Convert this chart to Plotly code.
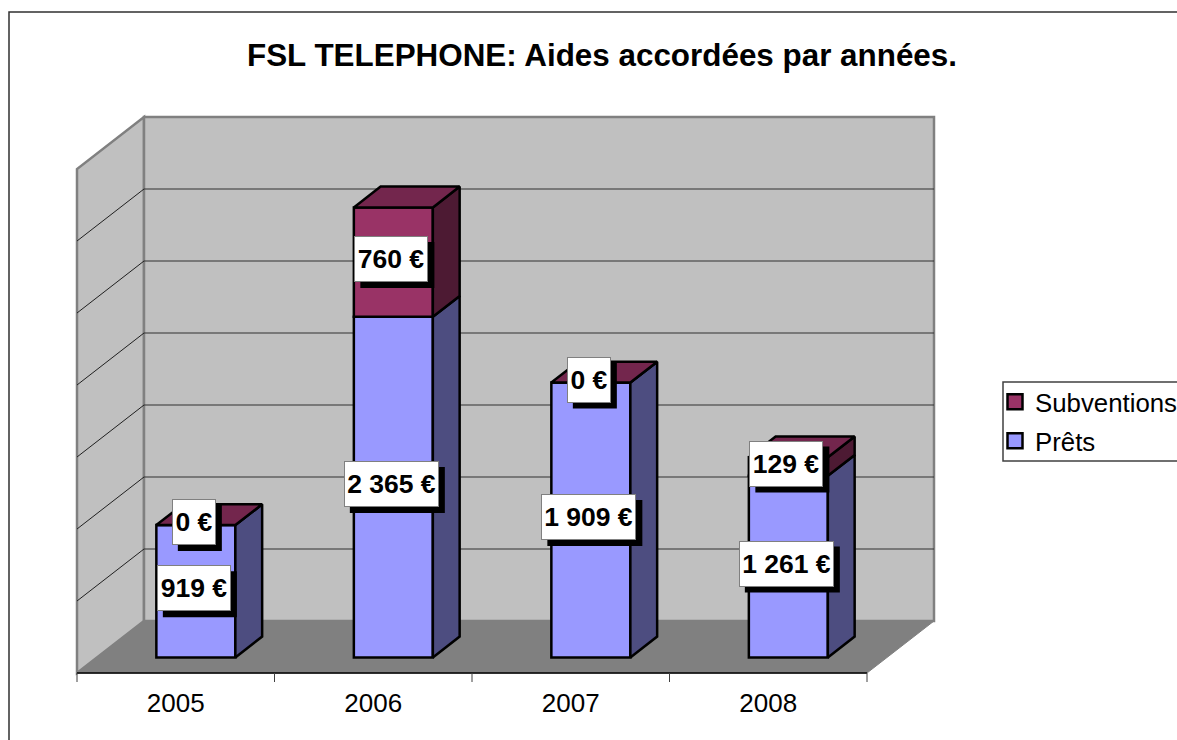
import plotly.graph_objects as go

years = ["2005", "2006", "2007", "2008"]
prets = [919, 2365, 1909, 1261]
subventions = [0, 760, 0, 129]
grid_values = [500, 1000, 1500, 2000, 2500, 3000]
axis_max = 3500

W, H = 1177, 740
PX_PER_CAT = 197.5
PX_PER_VAL = 72 / 500
ML, MR, MT, MB = 72, W - 940, 112, 740 - 677
x_lo = -(77 - ML) / PX_PER_CAT
x_hi = x_lo + (W - ML - MR) / PX_PER_CAT
y_lo = -(677 - 673) / PX_PER_VAL
y_hi = y_lo + (H - MT - MB) / PX_PER_VAL
DX = 67 / PX_PER_CAT          # depth of the floor in x units
DY = 52 / PX_PER_VAL          # depth of the floor in y units
D0, D1 = 0.3, 0.7             # bar front / back depth
BAR_W = 79 / PX_PER_CAT

BLUE, BLUE_SIDE = "#9999FF", "#4D4D80"
PURPLE, PURPLE_SIDE, PURPLE_TOP = "#993366", "#4D1A33", "#73264D"
WALL, FLOOR, EDGE = "#C0C0C0", "#808080", "#808080"
FONT = "Liberation Sans, Arial, sans-serif"
LW = 2.5


def paper_x(px):
    return (px - ML) / (W - ML - MR)


def paper_y(py):
    return 1 - (py - MT) / (H - MT - MB)


def path(points):
    return "M" + " L".join(f"{x},{y}" for x, y in points) + " Z"


shapes = []
# frame of the chart area (runs off the right and bottom of the page)
shapes.append(dict(type="rect", xref="paper", yref="paper", x0=paper_x(9), x1=paper_x(1300),
                   y0=paper_y(900), y1=paper_y(12), line=dict(color="#303030", width=1.5), layer="below"))
# legend frame (runs off the right of the page)
shapes.append(dict(type="rect", xref="paper", yref="paper", x0=paper_x(1003), x1=paper_x(1300),
                   y0=paper_y(461), y1=paper_y(382), line=dict(color="#404040", width=1.5), layer="below"))
# walls and floor
shapes.append(dict(type="path", layer="below", fillcolor=WALL, line=dict(color=EDGE, width=2.5),
                   path=path([(0, 0), (DX, DY), (DX, axis_max + DY), (0, axis_max)])))
shapes.append(dict(type="path", layer="below", fillcolor=WALL, line=dict(color=EDGE, width=2.5),
                   path=path([(DX, DY), (4 + DX, DY), (4 + DX, axis_max + DY), (DX, axis_max + DY)])))
shapes.append(dict(type="path", layer="below", fillcolor=FLOOR, line=dict(color=EDGE, width=1),
                   path=path([(0, 0), (4, 0), (4 + DX, DY), (DX, DY)])))
for v in grid_values:
    shapes.append(dict(type="line", layer="below", x0=0, x1=DX, y0=v, y1=v + DY,
                       line=dict(color="#202020", width=1)))
    shapes.append(dict(type="line", layer="below", x0=DX, x1=4 + DX, y0=v + DY, y1=v + DY,
                       line=dict(color="#303030", width=1)))
# category axis line and ticks
shapes.append(dict(type="line", layer="below", x0=0, x1=4, y0=0, y1=0, line=dict(color="#000000", width=1.5)))
for i in range(len(years) + 1):
    shapes.append(dict(type="line", xref="x", yref="paper", x0=i, x1=i, y0=paper_y(673), y1=paper_y(682),
                       line=dict(color="#404040", width=1)))

fig = go.Figure()

base = [0] * len(years)
series = [("Prêts", prets, BLUE, BLUE_SIDE), ("Subventions", subventions, PURPLE, PURPLE_SIDE)]
side_traces = []
label_items = []
for name, values, color, side in series:
    fig.add_trace(go.Bar(
        x=[i + 0.5 + D0 * DX for i in range(len(years))],
        y=values,
        base=[b + D0 * DY for b in base],
        width=BAR_W,
        marker=dict(color=color, line=dict(color="#000000", width=LW)),
        name=name, showlegend=False, hoverinfo="skip",
    ))
    for i, v in enumerate(values):
        xr = i + 0.5 + BAR_W / 2
        x0, x1 = xr + D0 * DX, xr + D1 * DX
        b0 = base[i]
        t0 = b0 + v
        side_traces.append((x0, x1, b0, t0, side))
        label_items.append((i + 0.5 + D0 * DX, b0 + v / 2 + D0 * DY, v))
    base = [b + v for b, v in zip(base, values)]

for x0, x1, b0, t0, side in side_traces:
    fig.add_trace(go.Scatter(
        x=[x0, x1, x1, x0, x0],
        y=[b0 + D0 * DY, b0 + D1 * DY, t0 + D1 * DY, t0 + D0 * DY, b0 + D0 * DY],
        mode="lines", fill="toself", fillcolor=side, line=dict(color="#000000", width=LW),
        showlegend=False, hoverinfo="skip",
    ))
for i, top in enumerate(base):
    xl = i + 0.5 - BAR_W / 2
    xr = i + 0.5 + BAR_W / 2
    fig.add_trace(go.Scatter(
        x=[xl + D0 * DX, xr + D0 * DX, xr + D1 * DX, xl + D1 * DX, xl + D0 * DX],
        y=[top + D0 * DY, top + D0 * DY, top + D1 * DY, top + D1 * DY, top + D0 * DY],
        mode="lines", fill="toself", fillcolor=PURPLE_TOP, line=dict(color="#000000", width=LW),
        showlegend=False, hoverinfo="skip",
    ))

# legend entries, one legend per row for the row spacing of the reference
for name, color, leg in [("Prêts", BLUE, "legend2"), ("Subventions", PURPLE, "legend")]:
    fig.add_trace(go.Scatter(
        x=[None], y=[None], mode="markers", name=name, legend=leg,
        marker=dict(symbol="square", size=15, color=color, line=dict(color="#000000", width=2.5)),
        hoverinfo="skip",
    ))

annotations = []
BOX_H = 46
for x, y, v in label_items:
    text = f"{v:,}".replace(",", " ") + " €"
    box_w = 44 if v == 0 else (74 if v < 1000 else 95)
    shapes.append(dict(type="rect", xref="x", yref="y", xsizemode="pixel", ysizemode="pixel",
                       xanchor=x, yanchor=y, x0=-2 - box_w / 2 + 6, x1=-2 + box_w / 2 + 6,
                       y0=3 - BOX_H / 2 - 6, y1=3 + BOX_H / 2 - 6,
                       fillcolor="#000000", line=dict(width=0), layer="above"))
    annotations.append(dict(x=x, y=y, xref="x", yref="y", text=f"<b>{text}</b>", showarrow=False,
                            xshift=-2, yshift=3, width=box_w - 2, height=BOX_H - 2, borderpad=0,
                            bgcolor="#FFFFFF", bordercolor="#808080", borderwidth=1,
                            font=dict(family=FONT, size=26.5, color="#000000")))

legend_common = dict(xanchor="left", yanchor="middle", borderwidth=0, bgcolor="rgba(0,0,0,0)",
                     itemsizing="trace", itemwidth=30,
                     font=dict(family=FONT, size=25.8, color="#000000"))

fig.update_layout(
    width=W, height=H, autosize=False,
    margin=dict(l=ML, r=MR, t=MT, b=MB, autoexpand=False, pad=0),
    paper_bgcolor="#FFFFFF", plot_bgcolor="rgba(0,0,0,0)",
    barmode="overlay",
    title=dict(text="<b>FSL TELEPHONE: Aides accordées par années.</b>",
               xref="container", yref="container", x=602 / W, xanchor="center",
               y=1 - 55 / H, yanchor="middle",
               font=dict(family=FONT, size=31.4, color="#000000")),
    xaxis=dict(range=[x_lo, x_hi], tickmode="array", tickvals=[i + 0.5 for i in range(len(years))],
               ticktext=years, ticks="outside", ticklen=3, tickcolor="rgba(0,0,0,0)",
               showgrid=False, zeroline=False, showline=False,
               tickfont=dict(family=FONT, size=26, color="#000000")),
    yaxis=dict(range=[y_lo, y_hi], visible=False),
    legend=dict(x=paper_x(995), y=paper_y(402), **legend_common),
    legend2=dict(x=paper_x(995), y=paper_y(441), **legend_common),
    shapes=shapes, annotations=annotations,
)

fig.write_html("out.html", config={"displayModeBar": False},
               post_script="document.body.style.margin='0';document.documentElement.style.overflow='hidden';")
